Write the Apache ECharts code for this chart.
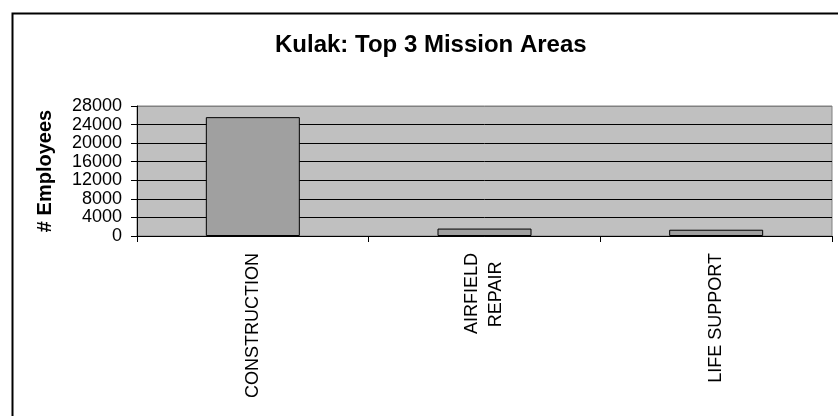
<!DOCTYPE html>
<html>
<head>
<meta charset="utf-8">
<script src="https://cdn.jsdelivr.net/npm/echarts@6/dist/echarts.min.js"></script>
<style>
    html, body { margin: 0; padding: 0; background: #fff; }
    #divChart { width: 838px; height: 416px; }
</style>
</head>
<body>
<div id="divChart"></div>
<script>
var categories = ['CONSTRUCTION', 'AIRFIELD\nREPAIR', 'LIFE SUPPORT'];
var employees = [25600, 1600, 1350];
var yTicks = [0, 4000, 8000, 12000, 16000, 20000, 24000, 28000];

var FONT = "'Liberation Sans', Arial, sans-serif";
var myChart = echarts.init(document.getElementById('divChart'));

// top split line is the gray plot border, the rest are black
var splitColors = yTicks.map(function (v, i) {
    return i == yTicks.length - 1 ? '#808080' : '#000';
});

var option = {
    backgroundColor: '#fff',
    animation: false,
    title: {
        text: 'Kulak: Top 3 Mission Areas',
        left: 270,
        top: 28,
        textStyle: {
            fontFamily: FONT,
            fontSize: 24,
            fontWeight: 'bold',
            color: '#000'
        }
    },
    grid: {
        left: 137,
        right: 6,
        top: 106,
        bottom: 180,
        show: true,
        backgroundColor: '#c0c0c0',
        borderColor: '#808080',
        borderWidth: 1
    },
    graphic: [{
        type: 'rect',
        left: 10,
        top: 11,
        shape: { width: 840, height: 420 },
        style: { fill: 'none', stroke: '#000', lineWidth: 2 },
        silent: true
    }],
    xAxis: {
        type: 'category',
        data: categories,
        axisLine: { show: true, lineStyle: { color: '#000', width: 1 } },
        axisTick: { show: true, interval: 0, length: 6, lineStyle: { color: '#000' } },
        axisLabel: {
            interval: 0,
            rotate: 90,
            margin: 17,
            color: '#000',
            fontFamily: FONT,
            fontSize: 18,
            lineHeight: 24,
            formatter: function (v) {
                var lines = v.split('\n');
                if (lines.length == 1) {
                    return v;
                }
                // second line is shorter: pad its end so both lines share a centre
                return lines[0] + '\n' + lines[1] + '\u00a0\u2009';
            }
        },
        splitLine: { show: false }
    },
    yAxis: {
        type: 'value',
        min: 0,
        max: 28000,
        interval: 4000,
        name: '# Employees',
        nameLocation: 'middle',
        nameGap: 82,
        nameTextStyle: {
            fontFamily: FONT,
            fontSize: 20,
            fontWeight: 'bold',
            color: '#000'
        },
        axisLine: { show: true, lineStyle: { color: '#000', width: 1 } },
        axisTick: { show: true, length: 6, lineStyle: { color: '#000' } },
        axisLabel: {
            margin: 15,
            color: '#000',
            fontFamily: FONT,
            fontSize: 18,
            formatter: function (v) { return String(v); }
        },
        splitLine: { show: true, lineStyle: { color: splitColors, width: 1 } }
    },
    series: [{
        name: '# Employees',
        type: 'bar',
        data: employees,
        barWidth: 94,
        itemStyle: {
            color: '#a0a0a0',
            borderColor: '#000',
            borderWidth: 1
        }
    }]
};

myChart.setOption(option);
</script>
</body>
</html>
